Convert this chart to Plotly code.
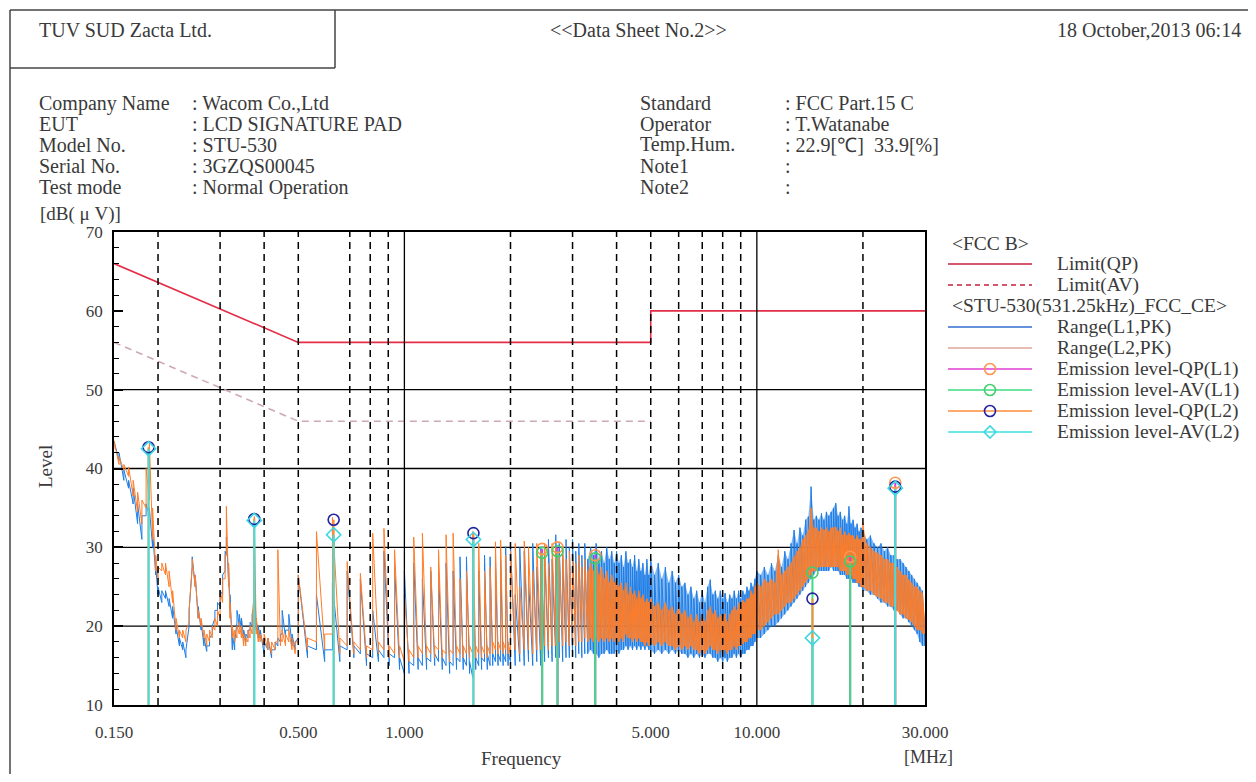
import math
import plotly.graph_objects as go

# ---------------- data ----------------
FREQ_MHZ = [
    # 0.15 - 0.5 MHz
    0.150, 0.155, 0.160, 0.165, 0.170, 0.175, 0.180, 0.185, 0.189, 0.193, 0.197,
    0.200, 0.205, 0.210, 0.215, 0.220, 0.225, 0.230, 0.235, 0.240, 0.245, 0.250, 0.255,
    0.260, 0.265, 0.270, 0.275, 0.280, 0.285, 0.290, 0.295, 0.300, 0.305, 0.310,
    0.3125, 0.317, 0.320,
    0.325, 0.330, 0.335, 0.340, 0.345, 0.350, 0.355, 0.360, 0.365, 0.370, 0.375, 0.380, 0.385, 0.390,
    0.400, 0.410, 0.420, 0.430, 0.4375, 0.445, 0.450, 0.460, 0.470, 0.480, 0.490,
    # 0.5 - 2 MHz
    0.5, 0.531, 0.563, 0.594, 0.625, 0.656, 0.688, 0.719, 0.75, 0.781, 0.813, 0.844, 0.875, 0.906, 0.938, 0.969,
    1.0, 1.031, 1.063, 1.094, 1.125, 1.156, 1.188, 1.219, 1.25, 1.281, 1.313, 1.344, 1.375, 1.406, 1.438, 1.469,
    1.5, 1.531, 1.563, 1.594, 1.625, 1.656, 1.688, 1.719, 1.75, 1.781, 1.813, 1.844, 1.875, 1.906, 1.938, 1.969,
    # 2 - 5 MHz
    2.0, 2.063, 2.125, 2.188, 2.25, 2.313, 2.375, 2.438, 2.5, 2.563, 2.625, 2.688, 2.75, 2.813, 2.875, 2.938,
    3.0, 3.063, 3.125, 3.188, 3.25, 3.313, 3.375, 3.438, 3.5, 3.563, 3.625, 3.688, 3.75, 3.813, 3.875, 3.938,
    4.0, 4.063, 4.125, 4.188, 4.25, 4.313, 4.375, 4.438, 4.5, 4.563, 4.625, 4.688, 4.75, 4.813, 4.875, 4.938,
    # 5 - 10 MHz
    5.0, 5.125, 5.25, 5.375, 5.5, 5.625, 5.75, 5.875, 6.0, 6.125, 6.25, 6.375, 6.5, 6.625, 6.75, 6.875,
    7.0, 7.125, 7.25, 7.375, 7.5, 7.625, 7.75, 7.875, 8.0, 8.125, 8.25, 8.375, 8.5, 8.625, 8.75, 8.875,
    9.0, 9.125, 9.25, 9.375, 9.5, 9.625, 9.75, 9.875,
    # 10 - 20 MHz
    10.0, 10.25, 10.5, 10.75, 11.0, 11.25, 11.5, 11.75, 12.0, 12.25, 12.5, 12.75, 13.0, 13.25, 13.5, 13.75,
    14.0, 14.25, 14.5, 14.75, 15.0, 15.25, 15.5, 15.75, 16.0, 16.25, 16.5, 16.75, 17.0, 17.25, 17.5, 17.75,
    18.0, 18.25, 18.5, 18.75, 19.0, 19.25, 19.5, 19.75,
    # 20 - 30 MHz
    20.0, 20.5, 21.0, 21.5, 22.0, 22.5, 23.0, 23.5, 24.0, 24.5, 25.0, 25.5, 26.0, 26.5, 27.0, 27.5,
    28.0, 28.5, 29.0, 29.5, 30.0,
]

# Range(L1,PK): lower / upper value of the trace at each frequency
L1_PK_LOW = [
    43.0, 41.0, 38.5, 37.5, 35.5, 33.0, 31.0, 34.0, 34.0, 30.0, 26.5,
    24.0, 23.0, 23.5, 22.5, 21.0, 19.0, 17.5, 17.0, 16.0, 20.0, 27.5, 25.0,
    21.0, 19.5, 17.5, 16.8, 17.5, 19.0, 21.0, 22.0, 22.5, 24.0, 27.0,
    29.0, 26.0, 22.0,
    17.0, 17.0, 20.5, 20.0, 19.5, 18.5, 18.0, 18.5, 19.5, 20.0, 22.0, 19.5, 18.5, 18.5,
    16.5, 17.0, 16.0, 17.0, 17.5, 18.0, 19.0, 18.5, 19.5, 17.5, 17.0,
    18.5, 16.0, 17.0, 15.5, 17.0, 15.5, 17.0, 16.0, 16.5, 15.0, 16.0, 15.5, 16.0, 15.0, 16.0, 14.5,
    14.0, 14.0, 15.0, 14.5, 15.0, 14.5, 15.5, 15.0, 15.5, 14.5, 15.0, 14.0, 15.0, 14.5, 15.5, 14.5,
    15.0, 14.0, 13.5, 14.5, 15.0, 14.5, 15.5, 14.5, 15.0, 15.0, 15.5, 15.0, 15.5, 15.0, 15.5, 15.0,
    15.5, 15.0, 15.5, 15.0, 15.5, 15.0, 15.5, 15.0, 15.5, 16.0, 15.5, 16.0, 16.0, 15.5, 16.0, 16.0,
    16.5, 16.0, 16.5, 16.0, 16.5, 16.5, 17.0, 16.5, 16.5, 16.0, 16.5, 16.5, 17.0, 16.5, 16.5, 16.5,
    17.0, 16.5, 17.0, 17.0, 17.5, 17.0, 17.5, 17.0, 17.5, 17.0, 17.5, 17.0, 17.5, 17.0, 17.5, 17.0,
    17.0, 16.5, 17.0, 16.5, 17.0, 16.5, 17.0, 16.5, 17.0, 16.5, 16.5, 16.0, 16.5, 16.0, 16.5, 16.0,
    16.5, 16.0, 16.5, 16.5, 16.0, 16.0, 15.5, 16.0, 15.5, 16.0, 15.5, 16.0, 16.0, 16.5, 16.0, 16.5,
    16.0, 16.5, 16.5, 17.0, 17.0, 17.5, 17.5, 18.0,
    18.5, 18.5, 19.0, 19.5, 20.0, 20.0, 20.5, 21.0, 21.5, 22.0, 22.5, 23.0, 23.5, 24.0, 24.5, 25.0,
    25.5, 26.0, 26.5, 27.0, 27.0, 27.0, 27.0, 27.0, 27.0, 27.5, 27.0, 27.0, 27.0, 26.5, 26.5, 26.5,
    26.0, 26.0, 26.0, 25.5, 25.5, 25.5, 25.0, 25.0,
    24.5, 24.5, 24.0, 24.0, 23.5, 23.0, 23.0, 22.5, 22.5, 22.0, 22.0, 21.5, 21.0, 21.0, 20.5, 20.0,
    19.5, 19.0, 18.0, 17.5, 17.5,
]
L1_PK_HIGH = [
    43.5, 42.0, 39.8, 38.5, 37.5, 35.5, 34.0, 35.5, 35.0, 32.0, 27.5,
    25.0, 24.5, 24.5, 23.5, 22.5, 20.0, 18.5, 18.0, 17.0, 22.0, 28.8, 26.5,
    22.5, 20.5, 18.5, 17.5, 18.5, 20.0, 22.0, 23.0, 24.5, 26.5, 29.5,
    31.3, 28.0, 24.0,
    19.0, 18.0, 22.0, 21.5, 21.0, 19.5, 19.0, 19.5, 20.5, 21.5, 27.0, 21.0, 20.0, 19.5,
    18.0, 18.5, 17.0, 18.0, 18.5, 19.0, 22.0, 19.5, 21.5, 19.0, 18.0,
    26.5, 17.5, 24.0, 17.0, 25.5, 17.5, 27.0, 17.5, 26.0, 16.5, 22.0, 17.0, 29.5, 16.5, 27.5, 16.0,
    27.0, 15.5, 28.0, 16.0, 26.0, 16.0, 27.0, 16.5, 27.0, 16.0, 28.0, 15.5, 27.0, 16.0, 28.8, 16.0,
    28.8, 15.5, 25.0, 16.0, 27.0, 16.0, 29.0, 16.5, 28.8, 16.5, 28.0, 16.5, 28.5, 16.5, 30.1, 16.5,
    30.5, 24.0, 30.0, 29.5, 26.0, 30.5, 27.5, 30.0, 29.0, 31.0, 28.5, 31.6, 30.5, 29.0, 31.0, 30.0,
    31.0, 29.5, 30.5, 29.0, 30.5, 28.5, 30.0, 29.0, 30.5, 28.5, 29.5, 28.0, 30.0, 28.5, 29.5, 28.0,
    29.5, 28.0, 29.0, 27.5, 29.5, 28.0, 28.5, 27.5, 29.0, 27.0, 28.5, 27.0, 28.0, 26.5, 28.5, 26.5,
    28.5, 26.5, 28.0, 26.0, 27.5, 25.5, 27.0, 25.5, 26.5, 25.0, 25.5, 24.0, 25.0, 23.5, 24.5, 23.0,
    24.5, 23.0, 25.0, 25.9, 24.0, 24.5, 23.5, 24.5, 23.5, 24.2, 23.0, 24.0, 23.5, 24.5, 23.5, 24.5,
    23.5, 24.5, 24.0, 25.0, 24.5, 25.5, 25.0, 26.0,
    27.0, 26.5, 27.5, 26.5, 28.0, 27.0, 29.0, 27.5, 29.5, 28.5, 30.5, 32.2, 30.5, 32.5, 31.5, 33.5,
    33.9, 37.7, 33.5, 34.0, 33.5, 34.3, 33.5, 34.5, 34.0, 34.5, 35.0, 35.6, 34.0, 34.5, 33.5, 34.0,
    33.0, 35.2, 33.0, 33.5, 32.5, 33.0, 32.0, 32.5,
    32.0, 31.0, 31.5, 30.5, 30.0, 30.5, 29.5, 30.0, 29.0, 29.0, 28.5, 28.5, 28.0, 27.5, 27.0, 26.5,
    26.0, 25.5, 25.0, 24.5, 19.0,
]

# Range(L2,PK)
L2_PK_LOW = [
    42.5, 40.5, 39.8, 39.0, 36.5, 34.5, 33.0, 35.0, 36.0, 31.0, 27.0,
    26.0, 27.0, 26.5, 25.0, 23.0, 19.5, 18.5, 18.5, 18.0, 20.5, 27.5, 25.0,
    21.0, 20.0, 18.5, 17.5, 18.0, 18.5, 19.5, 20.0, 21.0, 23.0, 26.0,
    29.0, 25.0, 21.0,
    18.5, 18.0, 18.5, 19.0, 18.5, 17.5, 17.5, 18.0, 18.5, 19.0, 24.0, 19.0, 18.0, 18.0,
    17.5, 17.0, 16.5, 17.0, 18.0, 17.5, 18.0, 17.5, 18.0, 17.0, 16.5,
    18.0, 17.0, 18.0, 17.0, 19.0, 16.5, 17.5, 16.5, 17.0, 16.0, 17.0, 16.5, 17.0, 16.0, 16.5, 16.0,
    15.5, 15.5, 16.0, 16.0, 16.5, 16.0, 16.5, 16.0, 17.0, 16.0, 16.5, 15.5, 16.5, 16.0, 16.5, 16.0,
    16.5, 16.0, 16.5, 16.0, 16.5, 16.0, 16.5, 16.0, 16.5, 16.5, 17.0, 16.5, 17.0, 16.5, 17.0, 16.5,
    16.5, 17.0, 16.5, 17.0, 17.0, 16.5, 17.0, 17.0, 17.5, 17.0, 17.5, 17.5, 18.0, 17.5, 18.0, 17.5,
    18.0, 17.5, 18.0, 18.0, 18.5, 18.0, 18.5, 18.0, 18.5, 18.0, 18.5, 18.0, 18.5, 18.0, 18.5, 18.0,
    18.5, 18.0, 18.5, 18.0, 19.0, 18.5, 18.5, 18.0, 18.5, 18.0, 18.5, 18.0, 18.0, 17.5, 18.0, 17.5,
    18.0, 17.5, 18.0, 17.5, 18.0, 17.5, 17.5, 17.0, 17.5, 17.0, 17.5, 17.0, 17.5, 17.0, 17.0, 16.5,
    17.0, 16.5, 17.0, 17.5, 17.0, 17.0, 16.5, 17.0, 16.5, 17.0, 16.5, 17.0, 17.0, 17.5, 17.0, 17.5,
    17.5, 17.8, 18.0, 18.0, 18.5, 18.5, 19.0, 19.0,
    19.5, 19.5, 20.0, 20.5, 21.0, 21.5, 21.5, 22.0, 22.5, 23.0, 23.0, 23.5, 24.0, 24.5, 25.0, 25.5,
    26.0, 26.5, 27.0, 27.0, 27.5, 27.5, 27.5, 27.5, 27.5, 27.5, 27.5, 27.5, 27.5, 27.0, 27.0, 27.0,
    26.5, 26.5, 26.5, 26.0, 26.0, 25.5, 25.5, 25.0,
    25.0, 24.5, 24.5, 24.0, 23.7, 23.5, 23.0, 23.0, 22.5, 22.5, 22.0, 21.5, 21.5, 21.0, 20.8, 20.5,
    20.0, 19.5, 19.5, 19.0, 19.0,
]
L2_PK_HIGH = [
    43.5, 41.5, 40.5, 40.2, 38.5, 37.0, 36.0, 40.0, 43.3, 35.0, 29.0,
    27.5, 28.0, 28.0, 27.0, 24.5, 21.0, 19.5, 19.5, 19.5, 22.0, 28.5, 26.5,
    22.0, 21.0, 19.5, 19.0, 19.5, 20.0, 21.0, 22.0, 24.5, 26.0, 29.0,
    35.2, 28.0, 23.0,
    20.0, 19.5, 20.0, 20.5, 20.0, 19.0, 18.5, 19.5, 20.0, 21.5, 33.9, 21.0, 19.5, 19.0,
    19.0, 18.5, 18.0, 18.0, 29.7, 18.5, 19.5, 19.0, 19.5, 18.5, 18.0,
    26.5, 18.5, 32.0, 19.0, 33.8, 18.5, 28.2, 18.0, 26.7, 17.5, 31.8, 18.0, 32.4, 17.5, 29.7, 17.5,
    24.0, 17.0, 31.3, 17.5, 31.8, 17.5, 27.5, 17.5, 29.7, 17.0, 31.6, 17.0, 31.8, 17.5, 26.0, 17.5,
    27.0, 17.5, 32.0, 17.5, 30.5, 17.5, 27.0, 17.5, 27.5, 18.0, 30.7, 18.0, 30.9, 18.0, 29.0, 18.0,
    29.5, 30.5, 25.0, 30.8, 30.0, 27.0, 30.5, 29.5, 30.5, 28.0, 30.5, 30.0, 29.0, 30.2, 28.5, 29.5,
    28.8, 28.0, 29.0, 27.5, 28.5, 27.0, 28.0, 27.0, 28.5, 26.5, 27.5, 26.0, 27.0, 25.5, 26.5, 25.5,
    26.0, 25.0, 25.5, 24.5, 25.5, 24.0, 25.0, 24.0, 24.5, 23.5, 24.5, 23.5, 24.0, 23.0, 23.5, 23.0,
    23.5, 22.5, 23.0, 22.0, 23.0, 22.0, 22.5, 21.5, 22.5, 21.5, 22.0, 21.0, 21.5, 20.5, 21.5, 20.5,
    21.5, 20.5, 22.0, 22.5, 21.5, 22.0, 21.0, 21.5, 21.0, 21.6, 20.5, 21.5, 22.0, 22.5, 22.0, 23.0,
    22.5, 23.3, 23.0, 23.5, 23.5, 24.5, 24.0, 25.0,
    25.5, 25.0, 26.0, 25.5, 26.0, 25.5, 29.7, 26.5, 27.0, 27.5, 28.0, 28.8, 29.5, 30.0, 31.0, 31.5,
    32.2, 35.0, 32.5, 32.5, 32.0, 32.5, 32.2, 32.5, 32.0, 32.5, 32.5, 32.6, 32.0, 32.5, 31.5, 32.0,
    31.5, 31.8, 31.5, 31.5, 31.0, 31.5, 31.0, 31.0,
    33.1, 30.5, 30.0, 29.5, 29.3, 29.0, 28.5, 28.5, 28.0, 28.0, 27.5, 27.0, 26.5, 26.5, 25.9, 25.5,
    25.0, 25.0, 24.5, 24.2, 21.0,
]

# final measurements
QP_L1_FREQ = [2.46, 2.72, 3.48, 18.4, 24.7]
QP_L1_LEVEL = [29.8, 30.0, 29.0, 28.8, 38.2]
AV_L1_FREQ = [2.46, 2.72, 3.48, 14.38, 18.4]
AV_L1_LEVEL = [29.3, 29.5, 28.6, 26.8, 28.2]
QP_L2_FREQ = [0.188, 0.375, 0.630, 1.570, 14.38, 24.7]
QP_L2_LEVEL = [42.7, 33.6, 33.5, 31.8, 23.5, 37.7]
AV_L2_FREQ = [0.188, 0.375, 0.630, 1.570, 14.38, 24.7]
AV_L2_LEVEL = [42.5, 33.4, 31.6, 31.0, 18.5, 37.5]

# FCC class B limits
LIMIT_QP_FREQ = [0.15, 0.5, 5.0, 5.0, 30.0]
LIMIT_QP_LEVEL = [66.0, 56.0, 56.0, 60.0, 60.0]
LIMIT_AV_FREQ = [0.15, 0.5, 5.0]
LIMIT_AV_LEVEL = [56.0, 46.0, 46.0]

X_TICK_VALUES = [0.15, 0.5, 1.0, 5.0, 10.0, 30.0]
X_TICK_TEXT = ["0.150", "0.500", "1.000", "5.000", "10.000", "30.000"]
GRID_SOLID_X = [1.0, 10.0]
GRID_DASH_X = [0.2, 0.3, 0.4, 0.5, 0.7, 0.8, 0.9, 2, 3, 4, 5, 6, 7, 8, 9, 20]
GRID_SOLID_Y = [20, 30, 40, 50]
X_MIN, X_MAX = 0.15, 30.0
Y_MIN, Y_MAX = 10, 70
BAND_START_MHZ = 3.3

# ---------------- styling / layout (page pixels) ----------------
FONT = "Liberation Serif"
TXT = "#3a3a3a"
BLUE = "rgb(30,125,230)"
ORANGE = "rgb(255,125,40)"
BODY = 8                      # browser body margin
W, H = 1256 - 2 * BODY, 782 - 2 * BODY
PL, PR, PT, PB = 114, 925, 232, 705   # plot area on the page


def ax(px):
    return (px - PL) / (PR - PL)


def ay(py):
    return (PB - py) / (PB - PT)


def zigzag(freqs, lo, hi):
    xs, ys = [], []
    for f, a, b in zip(freqs, lo, hi):
        xs += [f, f]
        ys += [a, b]
    return xs, ys


def band(freqs, lo, hi, start):
    rows = [(f, a, b) for f, a, b in zip(freqs, lo, hi) if f >= start]
    xs = [r[0] for r in rows] + [r[0] for r in reversed(rows)]
    ys = [r[2] for r in rows] + [r[1] for r in reversed(rows)]
    return xs, ys


def stems(freqs, levels):
    xs, ys = [], []
    for f, v in zip(freqs, levels):
        xs += [f, f, None]
        ys += [Y_MIN, v, None]
    return xs, ys


fig = go.Figure()

# spectra
bx, by = band(FREQ_MHZ, L1_PK_LOW, L1_PK_HIGH, BAND_START_MHZ)
fig.add_trace(go.Scatter(x=bx, y=by, fill="toself", fillcolor="rgba(30,125,230,0.55)",
                         line=dict(width=0), mode="lines", showlegend=False, hoverinfo="skip"))
zx, zy = zigzag(FREQ_MHZ, L1_PK_LOW, L1_PK_HIGH)
fig.add_trace(go.Scatter(x=zx, y=zy, mode="lines", line=dict(color=BLUE, width=1),
                         showlegend=False))
bx, by = band(FREQ_MHZ, L2_PK_LOW, L2_PK_HIGH, BAND_START_MHZ)
fig.add_trace(go.Scatter(x=bx, y=by, fill="toself", fillcolor="rgba(255,125,40,0.70)",
                         line=dict(width=0), mode="lines", showlegend=False, hoverinfo="skip"))
zx, zy = zigzag(FREQ_MHZ, L2_PK_LOW, L2_PK_HIGH)
fig.add_trace(go.Scatter(x=zx, y=zy, mode="lines", line=dict(color=ORANGE, width=1),
                         showlegend=False))

# limits
fig.add_trace(go.Scatter(x=LIMIT_AV_FREQ, y=LIMIT_AV_LEVEL, mode="lines",
                         line=dict(color="rgb(205,170,178)", width=1.6, dash="7px,5px"),
                         showlegend=False))
fig.add_trace(go.Scatter(x=LIMIT_QP_FREQ, y=LIMIT_QP_LEVEL, mode="lines",
                         line=dict(color="rgb(228,45,70)", width=1.6), showlegend=False))

# emission stems and markers (drawing order: QP L1, AV L1, QP L2, AV L2)
C_QP1_LINE, C_QP1_MK = "rgb(225,60,210)", "rgb(255,150,80)"
C_AV1_LINE, C_AV1_MK = "rgb(60,220,130)", "rgb(70,205,110)"
C_QP2_LINE, C_QP2_MK = "rgb(255,140,60)", "rgb(35,35,160)"
C_AV2_LINE, C_AV2_MK = "rgb(60,225,225)", "rgb(60,215,225)"
EMI = [
    (QP_L1_FREQ, QP_L1_LEVEL, C_QP1_LINE, "circle-open", C_QP1_MK),
    (AV_L1_FREQ, AV_L1_LEVEL, C_AV1_LINE, "circle-open", C_AV1_MK),
    (QP_L2_FREQ, QP_L2_LEVEL, C_QP2_LINE, "circle-open", C_QP2_MK),
    (AV_L2_FREQ, AV_L2_LEVEL, C_AV2_LINE, "diamond-open", C_AV2_MK),
]
for f, v, sc, sym, mc in EMI:
    sx, sy = stems(f, v)
    fig.add_trace(go.Scatter(x=sx, y=sy, mode="lines", line=dict(color=sc, width=2),
                             showlegend=False))
for f, v, sc, sym, mc in EMI:
    fig.add_trace(go.Scatter(x=f, y=v, mode="markers",
                             marker=dict(symbol=sym, size=11, color=mc, line=dict(width=1.6, color=mc)),
                             showlegend=False))

# ---------------- grid lines ----------------
shapes = []
for yv in GRID_SOLID_Y:
    shapes.append(dict(type="line", xref="paper", yref="y", x0=0, x1=1, y0=yv, y1=yv,
                       line=dict(color="black", width=1.3), layer="below"))
for xv in GRID_SOLID_X:
    shapes.append(dict(type="line", xref="x", yref="paper", x0=xv, x1=xv,
                       y0=0, y1=1, line=dict(color="black", width=1.3), layer="above"))
for xv in GRID_DASH_X:
    shapes.append(dict(type="line", xref="x", yref="paper", x0=xv, x1=xv,
                       y0=0, y1=1, line=dict(color="black", width=1.5, dash="7px,5px"), layer="above"))

# page frame
FR = dict(color="#444444", width=1.5)
shapes += [
    dict(type="line", xref="paper", yref="paper", x0=ax(10), x1=ax(1256), y0=ay(10), y1=ay(10), line=FR),
    dict(type="line", xref="paper", yref="paper", x0=ax(10), x1=ax(10), y0=ay(10), y1=ay(782), line=FR),
    dict(type="line", xref="paper", yref="paper", x0=ax(335), x1=ax(335), y0=ay(10), y1=ay(68), line=FR),
    dict(type="line", xref="paper", yref="paper", x0=ax(10), x1=ax(335), y0=ay(68), y1=ay(68), line=FR),
]

ann = []


def text(t, x, y, xa="left", size=20, angle=0, color=TXT):
    ann.append(dict(text=t, x=ax(x), y=ay(y), xref="paper", yref="paper", xanchor=xa,
                    yanchor="middle", showarrow=False, textangle=angle,
                    font=dict(family=FONT, size=size, color=color)))


# ---------------- legend (drawn by hand to match the sheet layout) ----------------
LEG_TITLE_X, LEG_LINE_X0, LEG_LINE_X1, LEG_MARK_X, LEG_TEXT_X = 950, 948, 1032, 990, 1055
LEG_ROWS = [
    ("&lt;FCC B&gt;", None, None, None),
    ("Limit(QP)", dict(color="rgb(200,30,60)", width=1.6), None, None),
    ("Limit(AV)", dict(color="rgb(200,30,60)", width=1.6, dash="5px,4px"), None, None),
    ("&lt;STU-530(531.25kHz)_FCC_CE&gt;", None, None, None),
    ("Range(L1,PK)", dict(color="rgb(50,110,210)", width=1.4), None, None),
    ("Range(L2,PK)", dict(color="rgb(205,120,100)", width=1.2), None, None),
    ("Emission level-QP(L1)", dict(color=C_QP1_LINE, width=1.6), "circle", C_QP1_MK),
    ("Emission level-AV(L1)", dict(color=C_AV1_LINE, width=1.6), "circle", C_AV1_MK),
    ("Emission level-QP(L2)", dict(color=C_QP2_LINE, width=1.6), "circle", C_QP2_MK),
    ("Emission level-AV(L2)", dict(color=C_AV2_LINE, width=1.6), "diamond", C_AV2_MK),
]
LEG_Y0, LEG_DY = 243, 21
for i, (label, ln, mk, mc) in enumerate(LEG_ROWS):
    yy = LEG_Y0 + LEG_DY * i
    if ln is None:
        text(label, LEG_TITLE_X, yy, size=19.5)
        continue
    shapes.append(dict(type="line", xref="paper", yref="paper", x0=ax(LEG_LINE_X0), x1=ax(LEG_LINE_X1),
                       y0=ay(yy), y1=ay(yy), line=ln))
    if mk == "circle":
        shapes.append(dict(type="circle", xref="paper", yref="paper", xsizemode="pixel", ysizemode="pixel",
                           xanchor=ax(LEG_MARK_X), yanchor=ay(yy), x0=-5.5, x1=5.5, y0=-5.5, y1=5.5,
                           line=dict(color=mc, width=1.6), fillcolor="rgba(0,0,0,0)"))
    elif mk == "diamond":
        shapes.append(dict(type="path", xref="paper", yref="paper", xsizemode="pixel", ysizemode="pixel",
                           xanchor=ax(LEG_MARK_X), yanchor=ay(yy), path="M0,-6L6,0L0,6L-6,0Z",
                           line=dict(color=mc, width=1.6), fillcolor="rgba(0,0,0,0)"))
    text(label, LEG_TEXT_X, yy, size=19.5)

# ---------------- header and labels ----------------
text("TUV SUD Zacta Ltd.", 37, 30)
text("&lt;&lt;Data Sheet No.2&gt;&gt;", 638, 30, xa="center")
text("18 October,2013 06:14", 1243, 30, xa="right")
LEFT_INFO = [("Company Name", ": Wacom Co.,Ltd"), ("EUT", ": LCD SIGNATURE PAD"),
             ("Model No.", ": STU-530"), ("Serial No.", ": 3GZQS00045"),
             ("Test mode", ": Normal Operation")]
RIGHT_INFO = [("Standard", ": FCC Part.15 C"), ("Operator", ": T.Watanabe"),
              ("Temp.Hum.", ": 22.9[℃]  33.9[%]"), ("Note1", ":"), ("Note2", ":")]
for i, (k, v) in enumerate(LEFT_INFO):
    text(k, 37, 103 + 21 * i)
    text(v, 190, 103 + 21 * i)
for i, (k, v) in enumerate(RIGHT_INFO):
    text(k, 638, 103 + 21 * i)
    text(v, 783, 103 + 21 * i)
text("[dB( μ V)]", 38, 214, size=19)
text("Level", 45, 467, xa="center", size=19, angle=-90)
text("Frequency", 521, 758, xa="center", size=19)
text("[MHz]", 928, 757, xa="center", size=18)

fig.update_layout(
    width=W, height=H, autosize=False,
    margin=dict(l=PL - BODY, r=W - (PR - BODY), t=PT - BODY, b=H - (PB - BODY), pad=0),
    paper_bgcolor="white", plot_bgcolor="white",
    font=dict(family=FONT, size=17, color=TXT),
    shapes=shapes, annotations=ann,
    showlegend=False,
    xaxis=dict(type="log", range=[math.log10(X_MIN), math.log10(X_MAX)],
               tickvals=X_TICK_VALUES, ticktext=X_TICK_TEXT, ticks="",
               showgrid=False, zeroline=False, showline=True, linecolor="black",
               linewidth=1.5, mirror=True, ticklabelstandoff=11,
               tickfont=dict(family=FONT, size=17, color=TXT)),
    yaxis=dict(range=[Y_MIN, Y_MAX], tickmode="linear", tick0=10, dtick=10,
               ticks="inside", ticklen=9, tickwidth=1.5, tickcolor="black",
               minor=dict(dtick=2, ticks="inside", ticklen=5, tickwidth=1.2, tickcolor="black"),
               showgrid=False, zeroline=False, showline=True, linecolor="black",
               linewidth=1.5, mirror=True, ticklabelstandoff=6,
               tickfont=dict(family=FONT, size=17, color=TXT)),
)

fig.write_html("out.html")
